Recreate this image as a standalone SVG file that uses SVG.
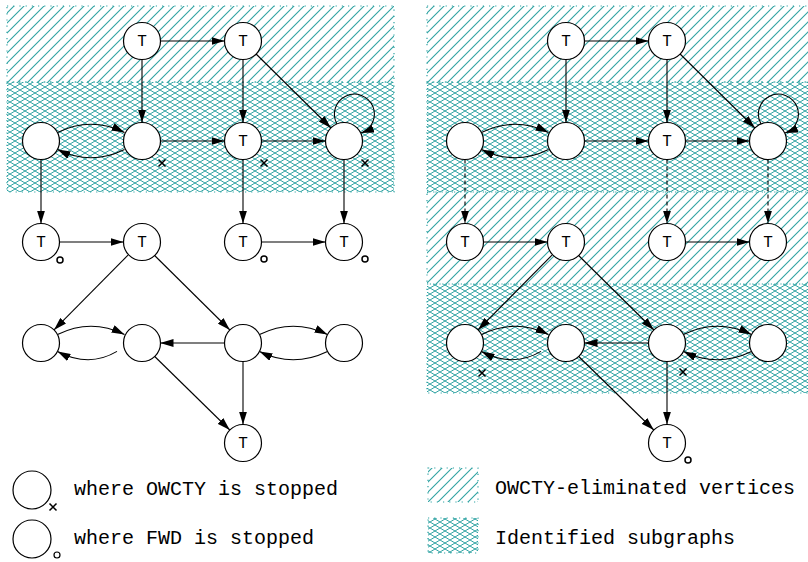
<svg xmlns="http://www.w3.org/2000/svg" width="808" height="562" viewBox="0 0 808 562">
  <defs>
    <!-- diagonal "/" hatching -->
    <pattern id="diag" patternUnits="userSpaceOnUse" width="10" height="10">
      <path d="M-1,1 L1,-1 M0,10 L10,0 M9,11 L11,9" stroke="#2fa3a3" stroke-width="1.1"/>
    </pattern>
    <!-- fine diamond mesh -->
    <pattern id="mesh" patternUnits="userSpaceOnUse" width="10" height="6">
      <path d="M0,0 L10,6 M0,6 L10,0" stroke="#2fa3a3" stroke-width="1"/>
    </pattern>
    <marker id="arr" markerUnits="userSpaceOnUse" viewBox="0 0 13 8" refX="13" refY="4" markerWidth="13" markerHeight="8" orient="auto">
      <path d="M0,0 L13,4 L0,8 z" fill="#000"/>
    </marker>
  </defs>
  <style>
    .zone { stroke: #2fa3a3; stroke-width: 1.2; stroke-dasharray: 1.2 5; }
    .node circle { fill: #fff; stroke: #000; stroke-width: 1.2; }
    .node text, .lbl { font-family: "Liberation Mono", "Courier New", monospace; fill: #000; }
    .node text { font-size: 16px; text-anchor: middle; }
    .lbl { font-size: 20px; }
    #edges path, #edges line { fill: none; stroke: #000; stroke-width: 1.1; marker-end: url(#arr); }
    #edges .dash { stroke-dasharray: 4 3; }
    .mark { fill: none; stroke: #000; stroke-width: 1.5; }
  </style>

  <!-- shaded regions, left panel -->
  <rect class="zone" x="7" y="6" width="387" height="76" fill="url(#diag)"/>
  <rect class="zone" x="7" y="82" width="387" height="110" fill="url(#mesh)"/>
  <!-- shaded regions, right panel -->
  <rect class="zone" x="427" y="6" width="390" height="76" fill="url(#diag)"/>
  <rect class="zone" x="427" y="82" width="390" height="110" fill="url(#mesh)"/>
  <rect class="zone" x="427" y="192" width="390" height="92" fill="url(#diag)"/>
  <rect class="zone" x="427" y="284" width="390" height="109" fill="url(#mesh)"/>

  <g id="edges">
    <!-- left panel -->
    <line x1="160.5" y1="41" x2="224.5" y2="41"/>
    <line x1="142" y1="59.5" x2="142" y2="122.5"/>
    <line x1="243" y1="59.5" x2="243" y2="122.5"/>
    <line x1="256.1" y1="54" x2="330.9" y2="128"/>
    <path d="M57.5,132.6 Q91,116 124.5,132.6"/>
    <path d="M124.5,149.4 Q91,166 57.5,149.4"/>
    <line x1="160.5" y1="141" x2="224.5" y2="141"/>
    <line x1="261.5" y1="141" x2="325.5" y2="141"/>
    <path d="M337,124 A20,20 0 1 1 361,133"/>
    <line x1="41" y1="159.5" x2="41" y2="223.5"/>
    <line x1="243" y1="159.5" x2="243" y2="223.5"/>
    <line x1="344" y1="159.5" x2="344" y2="223.5"/>
    <line x1="59.5" y1="242" x2="123.5" y2="242"/>
    <line x1="261.5" y1="242" x2="325.5" y2="242"/>
    <line x1="128" y1="255.2" x2="54" y2="329.9"/>
    <line x1="154.1" y1="255" x2="229.9" y2="330"/>
    <path d="M57.5,334.6 Q91,318 124.5,334.6"/>
    <path d="M117,351.4 Q89,368 57.5,351.4"/>
    <line x1="224.5" y1="343" x2="160.5" y2="343"/>
    <path d="M259.5,334.6 Q293,318 327.5,334.6"/>
    <path d="M327.5,351.4 Q293,368 259.5,351.4"/>
    <line x1="154.2" y1="356" x2="229.8" y2="430"/>
    <line x1="243" y1="361.5" x2="243" y2="424.5"/>

    <!-- right panel -->
    <line x1="584.5" y1="41" x2="648.5" y2="41"/>
    <line x1="566" y1="59.5" x2="566" y2="122.5"/>
    <line x1="667" y1="59.5" x2="667" y2="122.5"/>
    <line x1="680.1" y1="54" x2="754.9" y2="128"/>
    <path d="M481.5,132.6 Q515,116 548.5,132.6"/>
    <path d="M548.5,149.4 Q515,166 481.5,149.4"/>
    <line x1="584.5" y1="141" x2="648.5" y2="141"/>
    <line x1="685.5" y1="141" x2="749.5" y2="141"/>
    <path d="M761,124 A20,20 0 1 1 785,133"/>
    <line class="dash" x1="465" y1="159.5" x2="465" y2="223.5"/>
    <line class="dash" x1="667" y1="159.5" x2="667" y2="223.5"/>
    <line class="dash" x1="768" y1="159.5" x2="768" y2="223.5"/>
    <line x1="483.5" y1="242" x2="547.5" y2="242"/>
    <line x1="685.5" y1="242" x2="749.5" y2="242"/>
    <line x1="552" y1="255.2" x2="478" y2="329.9"/>
    <line x1="578.1" y1="255" x2="653.9" y2="330"/>
    <path d="M481.5,334.6 Q515,318 548.5,334.6"/>
    <path d="M541,351.4 Q513,368 481.5,351.4"/>
    <line x1="648.5" y1="343" x2="584.5" y2="343"/>
    <path d="M683.5,334.6 Q717,318 751.5,334.6"/>
    <path d="M751.5,351.4 Q717,368 683.5,351.4"/>
    <line x1="578.2" y1="356" x2="653.8" y2="430"/>
    <line x1="667" y1="361.5" x2="667" y2="424.5"/>
  </g>

  <!-- left panel nodes -->
  <g id="L_t1" class="node"><circle cx="142" cy="41" r="18.5"/><text x="142" y="46">T</text></g>
  <g id="L_t2" class="node"><circle cx="243" cy="41" r="18.5"/><text x="243" y="46">T</text></g>
  <g id="L_a" class="node"><circle cx="41" cy="141" r="18.5"/></g>
  <g id="L_b" class="node"><circle cx="142" cy="141" r="18.5"/></g>
  <g id="L_c" class="node"><circle cx="243" cy="141" r="18.5"/><text x="243" y="146">T</text></g>
  <g id="L_d" class="node"><circle cx="344" cy="141" r="18.5"/></g>
  <g id="L_e" class="node"><circle cx="41" cy="242" r="18.5"/><text x="41" y="247">T</text></g>
  <g id="L_f" class="node"><circle cx="142" cy="242" r="18.5"/><text x="142" y="247">T</text></g>
  <g id="L_g" class="node"><circle cx="243" cy="242" r="18.5"/><text x="243" y="247">T</text></g>
  <g id="L_h" class="node"><circle cx="344" cy="242" r="18.5"/><text x="344" y="247">T</text></g>
  <g id="L_i" class="node"><circle cx="41" cy="343" r="18.5"/></g>
  <g id="L_j" class="node"><circle cx="142" cy="343" r="18.5"/></g>
  <g id="L_k" class="node"><circle cx="243" cy="343" r="18.5"/></g>
  <g id="L_l" class="node"><circle cx="344" cy="343" r="18.5"/></g>
  <g id="L_m" class="node"><circle cx="243" cy="443" r="18.5"/><text x="243" y="448">T</text></g>

  <!-- right panel nodes -->
  <g id="R_t1" class="node"><circle cx="566" cy="41" r="18.5"/><text x="566" y="46">T</text></g>
  <g id="R_t2" class="node"><circle cx="667" cy="41" r="18.5"/><text x="667" y="46">T</text></g>
  <g id="R_a" class="node"><circle cx="465" cy="141" r="18.5"/></g>
  <g id="R_b" class="node"><circle cx="566" cy="141" r="18.5"/></g>
  <g id="R_c" class="node"><circle cx="667" cy="141" r="18.5"/><text x="667" y="146">T</text></g>
  <g id="R_d" class="node"><circle cx="768" cy="141" r="18.5"/></g>
  <g id="R_e" class="node"><circle cx="465" cy="242" r="18.5"/><text x="465" y="247">T</text></g>
  <g id="R_f" class="node"><circle cx="566" cy="242" r="18.5"/><text x="566" y="247">T</text></g>
  <g id="R_g" class="node"><circle cx="667" cy="242" r="18.5"/><text x="667" y="247">T</text></g>
  <g id="R_h" class="node"><circle cx="768" cy="242" r="18.5"/><text x="768" y="247">T</text></g>
  <g id="R_i" class="node"><circle cx="465" cy="343" r="18.5"/></g>
  <g id="R_j" class="node"><circle cx="566" cy="343" r="18.5"/></g>
  <g id="R_k" class="node"><circle cx="667" cy="343" r="18.5"/></g>
  <g id="R_l" class="node"><circle cx="768" cy="343" r="18.5"/></g>
  <g id="R_m" class="node"><circle cx="667" cy="443" r="18.5"/><text x="667" y="448">T</text></g>

  <!-- stop markers: crosses (OWCTY) and small rings (FWD) -->
  <g id="marks" class="mark">
    <path d="M158.5,159.5 l7,7 m0,-7 l-7,7"/>
    <path d="M260.5,159.5 l7,7 m0,-7 l-7,7"/>
    <path d="M361.5,159.5 l7,7 m0,-7 l-7,7"/>
    <path d="M478.5,369.5 l7,7 m0,-7 l-7,7"/>
    <path d="M679.5,368.5 l7,7 m0,-7 l-7,7"/>
    <circle cx="60" cy="260" r="3"/>
    <circle cx="264" cy="259" r="3"/>
    <circle cx="365" cy="259" r="3"/>
    <circle cx="688" cy="460" r="3"/>
  </g>

  <!-- legend -->
  <g id="legend_owcty" class="node">
    <circle cx="32" cy="490" r="19"/>
    <path class="mark" d="M49.5,503.5 l7,7 m0,-7 l-7,7"/>
    <text class="lbl" x="74" y="495" style="text-anchor:start;font-size:20px">where OWCTY is stopped</text>
  </g>
  <g id="legend_fwd" class="node">
    <circle cx="32" cy="539" r="19"/>
    <circle class="mark" cx="57" cy="555" r="3"/>
    <text class="lbl" x="74" y="544" style="text-anchor:start;font-size:20px">where FWD is stopped</text>
  </g>
  <g id="legend_elim">
    <rect class="zone" x="428" y="468" width="50" height="34" fill="url(#diag)"/>
    <text class="lbl" x="495" y="494">OWCTY-eliminated vertices</text>
  </g>
  <g id="legend_sub">
    <rect class="zone" x="428" y="518" width="50" height="35" fill="url(#mesh)"/>
    <text class="lbl" x="495" y="544">Identified subgraphs</text>
  </g>
</svg>
